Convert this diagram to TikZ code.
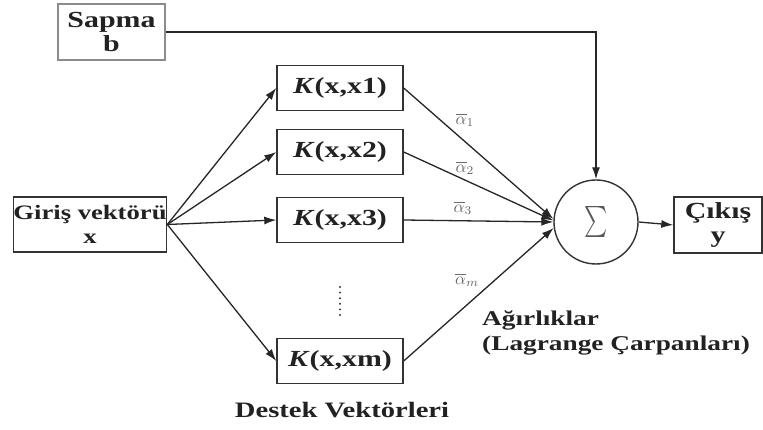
\documentclass[tikz,border=0pt]{standalone}
\usepackage{fontspec}
\setmainfont[FakeStretch=1.3]{Liberation Serif}
\usetikzlibrary{arrows.meta}
\definecolor{boxline}{HTML}{333333}
\definecolor{txt}{HTML}{222222}
\definecolor{lbl}{HTML}{6A6A6A}
\tikzset{
  blk/.style={draw=boxline, line width=1.4pt, rectangle, inner sep=0pt, align=center,
    text=txt, font=\bfseries\fontsize{23}{24}\selectfont},
  kbox/.style={blk, minimum width=126pt, minimum height=45pt},
  conn/.style={draw=black!85, line width=1.3pt, -{Latex[length=12pt,width=8pt]}},
  alab/.style={text=lbl, scale=1.7, inner sep=0pt},
  caption/.style={text=txt, font=\bfseries\fontsize{22}{25}\selectfont, inner sep=0pt}
}
\begin{document}
\begin{tikzpicture}[x=1pt,y=-1pt]
\useasboundingbox (0,0) rectangle (763,430);
\fill[white] (0,0) rectangle (763,430);

\node[blk, draw=black!45, minimum width=107pt, minimum height=56pt] (sapma) at (111.5,32) {Sapma\\b};
\node[blk, font=\bfseries\fontsize{20.5}{24}\selectfont, minimum width=150pt, minimum height=55pt] (giris) at (90,224.5) {Giriş vektörü\\x};

\node[kbox] (k1) at (340,88) {\textit{K}(x,x1)};
\node[kbox] (k2) at (340,152) {\textit{K}(x,x2)};
\node[kbox] (k3) at (340,220) {\textit{K}(x,x3)};
\node[kbox] (km) at (340,361) {\textit{K}(x,xm)};

\node[draw=boxline, line width=1.4pt, circle, minimum size=84pt, inner sep=0pt] (sigma) at (596,222) {};
\node[text=black!65, xscale=2.2, yscale=3.1, inner sep=0pt] (sigmasym) at (sigma.center) {$\sum$};

\node[blk, minimum width=88pt, minimum height=56pt] (cikis) at (718,225) {Çıkış\\y};

\draw[line width=2.2pt, line cap=round, dash pattern=on 0pt off 5.6pt, black!80] (340,287) -- (340,318);

% connectors
\draw[conn] (sapma.east) -| (sigma.north);
\draw[conn] (giris.east) -- (k1.west);
\draw[conn] (giris.east) -- (k2.west);
\draw[conn] (giris.east) -- (k3.west);
\draw[conn] (giris.east) -- (km.west);
\draw[conn] (k1.east) -- (sigma.176);
\draw[conn] (k2.east) -- (sigma.178);
\draw[conn] (k3.east) -- (sigma.180);
\draw[conn] (km.east) -- (sigma.188);
\draw[conn] (sigma.east) -- (cikis.west);

% labels
\node[alab] (a1) at (465,120) {$\overline{\alpha}_1$};
\node[alab] (a2) at (465,168) {$\overline{\alpha}_2$};
\node[alab] (a3) at (463,208) {$\overline{\alpha}_3$};
\node[alab] (am) at (467,280) {$\overline{\alpha}_m$};

\node[caption, font=\bfseries\fontsize{21}{25}\selectfont, anchor=west, align=left] (agir) at (482,333) {Ağırlıklar\\(Lagrange Çarpanları)};
\node[caption] (destek) at (342,410) {Destek Vektörleri};
\end{tikzpicture}
\end{document}
